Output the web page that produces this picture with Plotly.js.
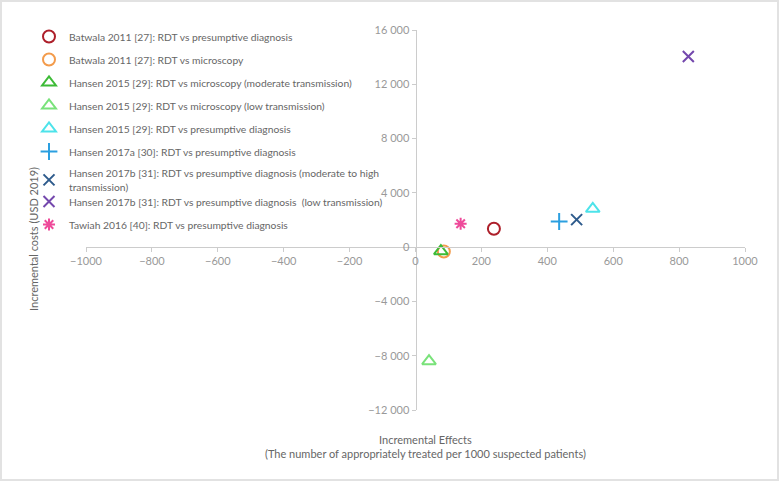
<!DOCTYPE html>
<html>
<head>
<meta charset="utf-8">
<script src="https://cdn.plot.ly/plotly-3.0.1.min.js"></script>
<style>
html,body{margin:0;padding:0;background:#fff;}
#wrap{width:779px;height:481px;box-sizing:border-box;border:2px solid #e2e2e2;overflow:hidden;}
#chart{width:775px;height:477px;}
</style>
</head>
<body>
<div id="wrap"><div id="chart"></div></div>
<script>
// Data
const studies = [
  "Batwala 2011 [27]: RDT vs presumptive diagnosis",
  "Batwala 2011 [27]: RDT vs microscopy",
  "Hansen 2015 [29]: RDT vs microscopy (moderate transmission)",
  "Hansen 2015 [29]: RDT vs microscopy (low transmission)",
  "Hansen 2015 [29]: RDT vs presumptive diagnosis",
  "Hansen 2017a [30]: RDT vs presumptive diagnosis",
  "Hansen 2017b [31]: RDT vs presumptive diagnosis (moderate to high<br>transmission)",
  "Hansen 2017b [31]: RDT vs presumptive diagnosis  (low transmission)",
  "Tawiah 2016 [40]: RDT vs presumptive diagnosis"
];
const effects = [238, 86, 77, 41, 538, 436, 489, 828, 137];
const costs = [1350, -320, -300, -8400, 2820, 1890, 2030, 14050, 1720];
const symbols = ["circle-open","circle-open","triangle-up-open","triangle-up-open","triangle-up-open","cross-thin-open","x-thin-open","x-thin-open","asterisk-open"];
const colors = ["#ad1f2a","#f39b4b","#3dbb37","#79e27a","#4de3ea","#2b9fe0","#2e5b8c","#7448ad","#ee4a9a"];
const sizes = [12, 12, 12, 12, 12, 12, 11, 11, 10];
const legendIds = ["legend","legend","legend","legend","legend","legend","legend","legend2","legend2"];
const xTicks = [-1000,-800,-600,-400,-200,0,200,400,600,800,1000];
const yTicks = [-12000,-8000,-4000,0,4000,8000,12000,16000];

const traces = studies.map((name, i) => ({
  type: "scatter",
  mode: "markers",
  name: name,
  legend: legendIds[i],
  legendgroup: "g" + i,
  x: [effects[i]],
  y: [costs[i]],
  marker: {
    symbol: symbols[i],
    size: sizes[i],
    color: colors[i],
    line: {color: colors[i], width: 2}
  },
  hoverinfo: "skip"
}));

const W = 775, H = 477;
const legendBase = {
  xref: "container", yref: "container",
  x: 27 / W,
  xanchor: "left", yanchor: "top",
  bgcolor: "rgba(0,0,0,0)",
  font: {family: "Lato, 'Open Sans', sans-serif", size: 10.3, color: "#666"},
  tracegroupgap: 4,
  itemwidth: 30
};
const layout = {
  width: W, height: H,
  margin: {l: 84, r: 32, t: 28, b: 69, autoexpand: false},
  paper_bgcolor: "#fff",
  plot_bgcolor: "#fff",
  separators: ". ",
  font: {family: "Lato, 'Open Sans', sans-serif", size: 11, color: "#888"},
  showlegend: true,
  legend: Object.assign({}, legendBase, {y: 1 - 20 / H}),
  legend2: Object.assign({}, legendBase, {y: 1 - 185 / H}),
  xaxis: {
    range: [-1000, 1000],
    tickvals: xTicks,
    tickangle: 0,
    ticks: "outside", ticklen: 4, tickcolor: "#ccc",
    showgrid: false, zeroline: false,
    showline: true, linecolor: "#ccc", linewidth: 1,
    anchor: "free", position: 12000 / 28000,
    tickfont: {size: 11, color: "#999"}
  },
  yaxis: {
    range: [-12000, 16000],
    tickvals: yTicks,
    tickformat: ",d",
    separatethousands: true,
    ticks: "outside", ticklen: 4, tickcolor: "#ccc",
    showgrid: false, zeroline: false,
    showline: true, linecolor: "#ccc", linewidth: 1,
    anchor: "free", position: 0.5,
    tickfont: {size: 11, color: "#999"}
  },
  annotations: [
    {
      xref: "paper", yref: "paper",
      x: (423 - 84) / 659, y: (408 - 444) / 380,
      xanchor: "center", yanchor: "middle",
      text: "Incremental Effects<br>(The number of appropriately treated per 1000 suspected patients)",
      showarrow: false, align: "center",
      font: {size: 11, color: "#666"}
    },
    {
      xref: "paper", yref: "paper",
      x: (31 - 84) / 659, y: (408 - 237) / 380,
      xanchor: "center", yanchor: "middle",
      text: "Incremental costs (USD 2019)",
      textangle: -90,
      showarrow: false,
      font: {size: 11, color: "#666"}
    }
  ]
};

Plotly.newPlot("chart", traces, layout, {staticPlot: true, displayModeBar: false});
</script>
</body>
</html>
